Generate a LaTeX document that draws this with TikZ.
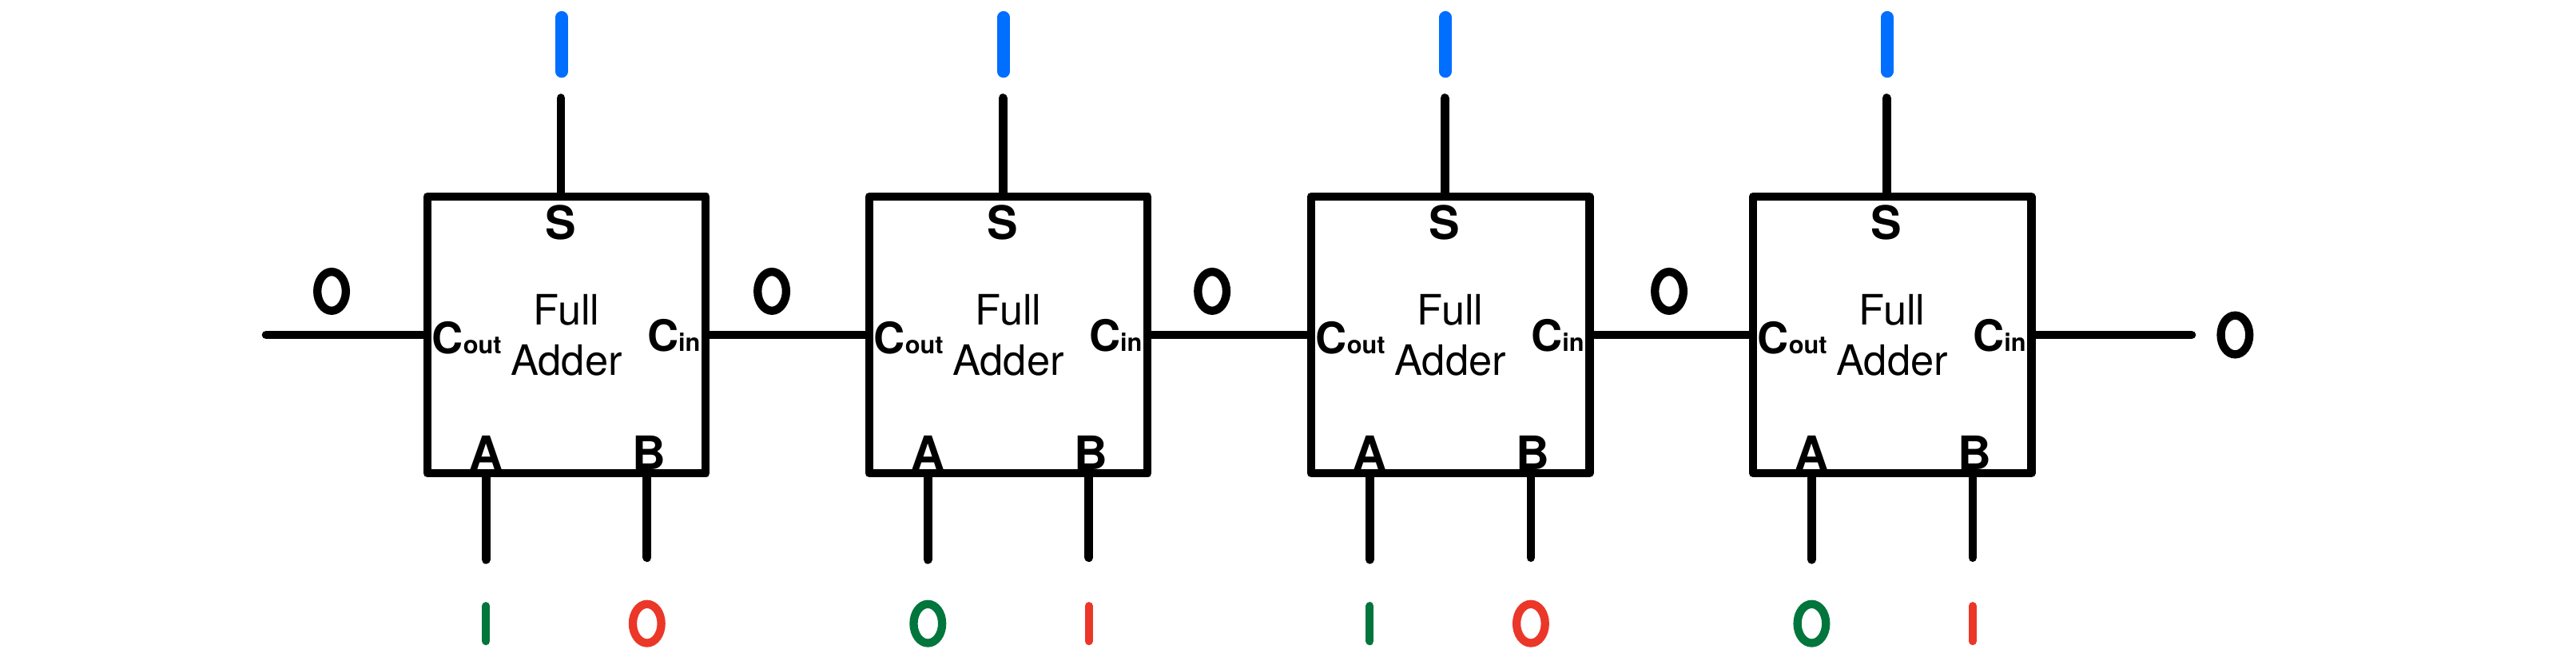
\documentclass[tikz,border=0pt]{standalone}
\usepackage{fontspec}
\setmainfont{TeX Gyre Heros}
\usetikzlibrary{positioning,calc,shapes.geometric}
\definecolor{sumblue}{RGB}{0,110,255}
\definecolor{bitgreen}{RGB}{0,118,60}
\definecolor{bitred}{RGB}{235,55,40}

\tikzset{
  adder/.style={draw, line width=2.85pt, line join=round, minimum width=3.39cm, minimum height=3.37cm, inner sep=0pt},
  wire/.style={line width=3pt, line cap=round},
  pinlbl/.style={inner sep=0pt, font=\fontsize{16}{19}\selectfont\bfseries},
  carrylbl/.style={inner sep=0pt, font=\fontsize{15}{18}\selectfont\bfseries},
  fulltxt/.style={inner sep=0pt, align=center, font=\fontsize{14.5}{17.4}\selectfont},
  bitzero/.style={draw, ellipse, line width=2.85pt, minimum width=0.347cm, minimum height=0.474cm, inner sep=0pt},
  bitone/.style={line width=2.75pt, line cap=round},
  sumone/.style={line width=4.3pt, line cap=round, sumblue},
}

\begin{document}
\begin{tikzpicture}
\useasboundingbox (0,0) rectangle (31.36,8.035);

% Adders
\node[adder] (fa1) at (6.897,3.959) {};
\node[adder] (fa2) at (12.276,3.959) {};
\node[adder] (fa3) at (17.656,3.959) {};
\node[adder] (fa4) at (23.035,3.959) {};

% Adder 1
\node[fulltxt] (ft1) at (fa1.center) {Full\\Adder};
\node[pinlbl] (s1) at ($(fa1.north)+(-0.068,-0.37)$) {S};
\node[pinlbl] (a1) at ($(fa1.south)+(-0.98,0.30)$) {A};
\node[pinlbl] (b1) at ($(fa1.south)+(1.0,0.30)$) {B};
\node[carrylbl, anchor=base west] (co1) at ($(fa1.west)+(0.1,-0.224)$) {C{\fontsize{8.5}{10}\selectfont out}};
\node[carrylbl, anchor=base east] (ci1) at ($(fa1.east)+(-0.11,-0.2)$) {C{\fontsize{8.5}{10}\selectfont in}};

% Adder 2
\node[fulltxt] (ft2) at (fa2.center) {Full\\Adder};
\node[pinlbl] (s2) at ($(fa2.north)+(-0.068,-0.37)$) {S};
\node[pinlbl] (a2) at ($(fa2.south)+(-0.98,0.30)$) {A};
\node[pinlbl] (b2) at ($(fa2.south)+(1.0,0.30)$) {B};
\node[carrylbl, anchor=base west] (co2) at ($(fa2.west)+(0.1,-0.224)$) {C{\fontsize{8.5}{10}\selectfont out}};
\node[carrylbl, anchor=base east] (ci2) at ($(fa2.east)+(-0.11,-0.2)$) {C{\fontsize{8.5}{10}\selectfont in}};

% Adder 3
\node[fulltxt] (ft3) at (fa3.center) {Full\\Adder};
\node[pinlbl] (s3) at ($(fa3.north)+(-0.068,-0.37)$) {S};
\node[pinlbl] (a3) at ($(fa3.south)+(-0.98,0.30)$) {A};
\node[pinlbl] (b3) at ($(fa3.south)+(1.0,0.30)$) {B};
\node[carrylbl, anchor=base west] (co3) at ($(fa3.west)+(0.1,-0.224)$) {C{\fontsize{8.5}{10}\selectfont out}};
\node[carrylbl, anchor=base east] (ci3) at ($(fa3.east)+(-0.11,-0.2)$) {C{\fontsize{8.5}{10}\selectfont in}};

% Adder 4
\node[fulltxt] (ft4) at (fa4.center) {Full\\Adder};
\node[pinlbl] (s4) at ($(fa4.north)+(-0.068,-0.37)$) {S};
\node[pinlbl] (a4) at ($(fa4.south)+(-0.98,0.30)$) {A};
\node[pinlbl] (b4) at ($(fa4.south)+(1.0,0.30)$) {B};
\node[carrylbl, anchor=base west] (co4) at ($(fa4.west)+(0.1,-0.224)$) {C{\fontsize{8.5}{10}\selectfont out}};
\node[carrylbl, anchor=base east] (ci4) at ($(fa4.east)+(-0.11,-0.2)$) {C{\fontsize{8.5}{10}\selectfont in}};

% Carry chain
\coordinate (cleft) at (3.24,3.959);
\coordinate (cright) at (26.68,3.959);
\draw[wire] (fa1.west) -- (cleft);
\draw[wire] (fa1.east) -- (fa2.west);
\draw[wire] (fa2.east) -- (fa3.west);
\draw[wire] (fa3.east) -- (fa4.west);
\draw[wire] (fa4.east) -- (cright);

% Carry values
\node[bitzero] (c0) at (4.037,4.49) {};
\node[bitzero] (c1) at (9.397,4.49) {};
\node[bitzero] (c2) at (14.757,4.49) {};
\node[bitzero] (c3) at (20.32,4.49) {};
\node[bitzero] (c4) at (27.21,3.959) {};

% Sum pins
\draw[wire] ($(fa1.north)+(-0.068,0)$) -- ++(0,1.148);
\draw[wire] ($(fa2.north)+(-0.068,0)$) -- ++(0,1.148);
\draw[wire] ($(fa3.north)+(-0.068,0)$) -- ++(0,1.148);
\draw[wire] ($(fa4.north)+(-0.068,0)$) -- ++(0,1.148);
\draw[sumone] ($(fa1.north)+(-0.06,1.47)$) -- ++(0,0.66);
\draw[sumone] ($(fa2.north)+(-0.06,1.47)$) -- ++(0,0.66);
\draw[sumone] ($(fa3.north)+(-0.06,1.47)$) -- ++(0,0.66);
\draw[sumone] ($(fa4.north)+(-0.06,1.47)$) -- ++(0,0.66);

% Input pins
\draw[wire] ($(fa1.south)+(-0.98,0)$) -- ++(0,-1.0);
\draw[wire] ($(fa1.south)+(0.98,0)$) -- ++(0,-0.975);
\draw[wire] ($(fa2.south)+(-0.98,0)$) -- ++(0,-1.0);
\draw[wire] ($(fa2.south)+(0.98,0)$) -- ++(0,-0.975);
\draw[wire] ($(fa3.south)+(-0.98,0)$) -- ++(0,-1.0);
\draw[wire] ($(fa3.south)+(0.98,0)$) -- ++(0,-0.975);
\draw[wire] ($(fa4.south)+(-0.98,0)$) -- ++(0,-1.0);
\draw[wire] ($(fa4.south)+(0.98,0)$) -- ++(0,-0.975);

% Input values
\draw[bitone, bitgreen] ($(fa1.south)+(-0.98,-1.563)$) -- ++(0,-0.43);
\node[bitzero, bitred] (b1v) at ($(fa1.south)+(0.98,-1.778)$) {};
\node[bitzero, bitgreen] (a2v) at ($(fa2.south)+(-0.98,-1.778)$) {};
\draw[bitone, bitred] ($(fa2.south)+(0.98,-1.563)$) -- ++(0,-0.43);
\draw[bitone, bitgreen] ($(fa3.south)+(-0.98,-1.563)$) -- ++(0,-0.43);
\node[bitzero, bitred] (b3v) at ($(fa3.south)+(0.98,-1.778)$) {};
\node[bitzero, bitgreen] (a4v) at ($(fa4.south)+(-0.98,-1.778)$) {};
\draw[bitone, bitred] ($(fa4.south)+(0.98,-1.563)$) -- ++(0,-0.43);

\end{tikzpicture}
\end{document}
